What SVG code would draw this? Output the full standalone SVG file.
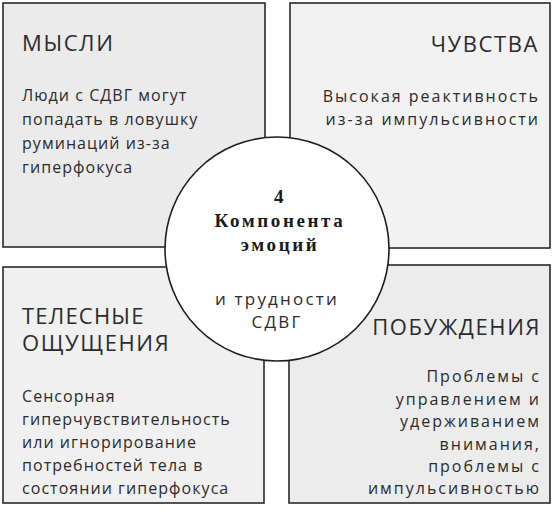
<svg xmlns="http://www.w3.org/2000/svg" width="552" height="513" viewBox="0 0 552 513">
<style>
.box{stroke:#2a2a2a;stroke-width:1.6}
.t{font-family:"Open Sans","Liberation Sans",sans-serif;fill:#2b2b2b}
.h{font-size:22px;letter-spacing:1.6px}
.b{font-size:16px;letter-spacing:1.05px}
.br{font-size:16px;letter-spacing:2px}
.cc{font-size:17px;letter-spacing:2.2px}
.r{text-anchor:end}
.c{text-anchor:middle}
.s{font-family:"Liberation Serif","DejaVu Serif",serif;font-weight:bold;font-size:19px;letter-spacing:2.6px;fill:#1a1a1a;text-anchor:middle}
</style>
<rect width="552" height="513" fill="#ffffff"/>
<g id="thoughts">
<rect class="box" x="3" y="3" width="262" height="244" fill="#ebebeb"/>
<text class="t h" x="22" y="51">МЫСЛИ</text>
<text class="t b" x="22" y="101">Люди с СДВГ могут</text>
<text class="t b" x="22" y="125">попадать в ловушку</text>
<text class="t b" x="22" y="149">руминаций из-за</text>
<text class="t b" x="22" y="173">гиперфокуса</text>
</g>
<g id="feelings">
<rect class="box" x="290" y="3" width="260" height="245" fill="#f2f2f2"/>
<text class="t h r" x="539" y="52">ЧУВСТВА</text>
<text class="t br r" x="540" y="102">Высокая реактивность</text>
<text class="t br r" x="540" y="125">из-за импульсивности</text>
</g>
<g id="body">
<rect class="box" x="3" y="267" width="261" height="236" fill="#f0f0f0"/>
<text class="t h" x="22" y="324" style="letter-spacing:1.2px">ТЕЛЕСНЫЕ</text>
<text class="t h" x="22" y="351">ОЩУЩЕНИЯ</text>
<text class="t b" x="22" y="402">Сенсорная</text>
<text class="t b" x="22" y="425">гиперчувствительность</text>
<text class="t b" x="22" y="448">или игнорирование</text>
<text class="t b" x="22" y="471">потребностей тела в</text>
<text class="t b" x="22" y="494">состоянии гиперфокуса</text>
</g>
<g id="urges">
<rect class="box" x="289" y="265" width="261" height="238" fill="#ececec"/>
<text class="t h r" x="541" y="335">ПОБУЖДЕНИЯ</text>
<text class="t br r" x="541" y="382">Проблемы с</text>
<text class="t br r" x="541" y="405">управлением и</text>
<text class="t br r" x="541" y="427">удерживанием</text>
<text class="t br r" x="541" y="450">внимания,</text>
<text class="t br r" x="541" y="472">проблемы с</text>
<text class="t br r" x="541" y="494">импульсивностью</text>
</g>
<g id="center">
<circle cx="277" cy="249" r="112" fill="#ffffff" stroke="#1e1e1e" stroke-width="1.6"/>
<text class="s" x="280" y="203">4</text>
<text class="s" x="280" y="227">Компонента</text>
<text class="s" x="280" y="251">эмоций</text>
<text class="t cc c" x="277" y="305">и трудности</text>
<text class="t cc c" x="277" y="328">СДВГ</text>
</g>
<g id="connectors"></g>
</svg>
